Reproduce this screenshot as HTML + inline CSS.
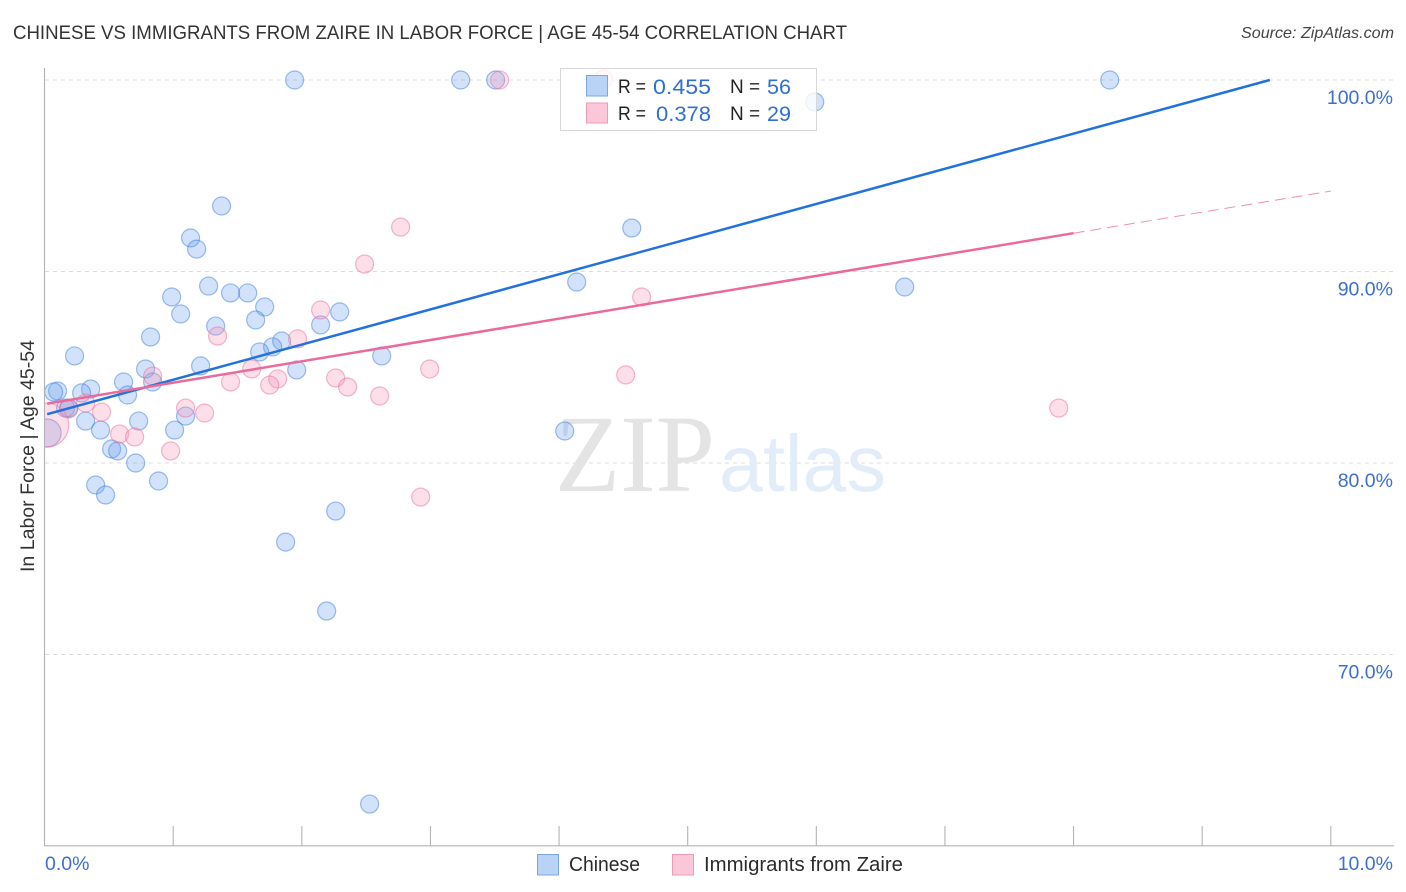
<!DOCTYPE html>
<html lang="en">
<head>
<meta charset="utf-8">
<title>Chinese vs Immigrants from Zaire in Labor Force | Age 45-54 Correlation Chart</title>
<style>
html,body{margin:0;padding:0;background:#fff;width:1406px;height:892px;overflow:hidden}
svg{display:block;font-family:"Liberation Sans",sans-serif}
</style>
</head>
<body>
<svg id="chart" xmlns="http://www.w3.org/2000/svg" width="1406" height="892" viewBox="0 0 1406 892">
  <defs>
    <clipPath id="plot-clip"><rect x="45" y="60" width="1349" height="786"/></clipPath>
  </defs>
  <text x="13" y="39" font-size="19.5" fill="#333" textLength="834" lengthAdjust="spacingAndGlyphs">CHINESE VS IMMIGRANTS FROM ZAIRE IN LABOR FORCE | AGE 45-54 CORRELATION CHART</text>
  <text x="1241" y="38" font-size="16" font-style="italic" fill="#444" textLength="153" lengthAdjust="spacingAndGlyphs">Source: ZipAtlas.com</text>
  <g id="grid"></g>
  <g>
    <text x="555" y="491" font-family="'Liberation Serif',serif" font-size="110" fill="#e4e4e4" textLength="160" lengthAdjust="spacingAndGlyphs">ZIP</text>
    <text x="719" y="491" font-size="80" fill="#e3edfa" textLength="167" lengthAdjust="spacingAndGlyphs">atlas</text>
  </g>
  <g id="points" clip-path="url(#plot-clip)"></g>
  <rect x="0" y="60" width="44.5" height="786" fill="#fff"/>
  <g id="axes"></g>
  <g id="trends"></g>
  <text transform="translate(34,572) rotate(-90)" font-size="19.5" fill="#333" textLength="232" lengthAdjust="spacingAndGlyphs">In Labor Force | Age 45-54</text>
  <g>
    <rect x="560.5" y="68.5" width="256" height="62" fill="#fff" fill-opacity="0.8" stroke="#d8d8d8"/>
    <rect x="586.5" y="75.5" width="21" height="20.5" fill="#b9d3f7" stroke="#7ba6e4"/>
    <rect x="586.5" y="103" width="21" height="20" fill="#fcc7d8" stroke="#f09ab8"/>
    <text x="618" y="93" font-size="19" fill="#222" textLength="28" lengthAdjust="spacingAndGlyphs">R =</text>
    <text x="653" y="94" font-size="21" fill="#2f6fd0" textLength="58" lengthAdjust="spacingAndGlyphs">0.455</text>
    <text x="730" y="93" font-size="19" fill="#222">N =</text>
    <text x="767" y="94" font-size="21" fill="#2f6fd0" textLength="24" lengthAdjust="spacingAndGlyphs">56</text>
    <text x="618" y="120" font-size="19" fill="#222" textLength="28" lengthAdjust="spacingAndGlyphs">R =</text>
    <text x="656" y="121" font-size="21" fill="#2f6fd0" textLength="55" lengthAdjust="spacingAndGlyphs">0.378</text>
    <text x="730" y="120" font-size="19" fill="#222">N =</text>
    <text x="767" y="121" font-size="21" fill="#2f6fd0" textLength="24" lengthAdjust="spacingAndGlyphs">29</text>
  </g>
  <g>
    <rect x="537.5" y="854.5" width="21" height="20.5" fill="#b9d3f7" stroke="#7ba6e4"/>
    <text x="569" y="871" font-size="20" fill="#2b2b2b" textLength="71" lengthAdjust="spacingAndGlyphs">Chinese</text>
    <rect x="672.5" y="854.5" width="21" height="20.5" fill="#fcc7d8" stroke="#f09ab8"/>
    <text x="704" y="871" font-size="20" fill="#2b2b2b" textLength="199" lengthAdjust="spacingAndGlyphs">Immigrants from Zaire</text>
  </g>
</svg>
<script>
const chineseX = [1.944,3.235,3.507,8.281,5.988,1.376,4.565,1.135,1.182,4.137,6.687,1.275,0.988,1.446,1.579,1.711,1.058,1.641,1.330,2.146,2.294,1.843,1.773,1.672,0.824,0.233,2.621,1.213,1.960,0.785,0.614,0.840,0.358,0.101,0.070,0.288,0.645,0.187,0.163,1.096,0.319,0.731,0.435,1.011,4.044,0.020,0.521,0.568,0.708,0.886,0.397,0.474,2.263,1.874,2.193,2.527];
const chineseY = [100,100,100,100,98.85,93.42,92.27,91.75,91.17,89.45,89.19,89.24,88.67,88.88,88.88,88.15,87.78,87.47,87.15,87.21,87.89,86.37,86.06,85.80,86.58,85.59,85.59,85.07,84.86,84.91,84.23,84.23,83.86,83.76,83.71,83.66,83.55,82.87,82.87,82.45,82.19,82.19,81.72,81.72,81.67,81.57,80.73,80.63,80.00,79.06,78.85,78.33,77.49,75.87,72.27,62.19];
const chineseWeight = [1,1,1,1,1,1,1,1,1,1,1,1,1,1,1,1,1,1,1,1,1,1,1,1,1,1,1,1,1,1,1,1,1,1,1,1,1,1,1,1,1,1,1,1,1,2.4,1,1,1,1,1,1,1,1,1,1];
const zaireX = [3.538,2.768,2.488,4.642,2.146,1.345,1.967,2.994,1.610,0.840,4.518,2.263,1.812,1.446,1.750,2.356,2.605,7.885,0.319,0.187,0.443,1.096,1.244,0.583,0.700,0.980,2.924,0.016,4.347];
const zaireY = [100,92.32,90.39,88.67,87.99,86.63,86.48,84.91,84.91,84.54,84.60,84.44,84.39,84.23,84.07,83.97,83.50,82.87,83.13,82.82,82.66,82.87,82.61,81.51,81.36,80.63,78.22,81.98,100.05];
const zaireWeight = [1,1,1,1,1,1,1,1,1,1,1,1,1,1,1,1,1,1,1,1,1,1,1,1,1,1,1,6,1];
const chineseTrendX = [0.02,9.526];
const chineseTrendY = [82.55,100];
const zaireTrendX = [0.02,8];
const zaireTrendY = [83.1,92.0];
const zaireForecastX = [8,10];
const zaireForecastY = [92.0,94.2];
const yTicks = [100,90,80,70];
const yTickLabels = ["100.0%","90.0%","80.0%","70.0%"];
const xTicks = [0,1,2,3,4,5,6,7,8,9,10];
const xEndTicks = [0,10];
const xEndLabels = ["0.0%","10.0%"];

const NS = 'http://www.w3.org/2000/svg';
function sx(v){ return 44.6 + v * 128.62; }
function sy(v){ return 80 + (100 - v) * 19.15; }
function rad(w){ return 9 * Math.sqrt(w); }
function mk(parent, tag, attrs){
  const el = document.createElementNS(NS, tag);
  for (const k in attrs) el.setAttribute(k, attrs[k]);
  parent.appendChild(el);
  return el;
}
const gGrid = document.getElementById('grid');
const gAxes = document.getElementById('axes');
const gPts = document.getElementById('points');
const gTrend = document.getElementById('trends');
const AXIS = '#b4b4b4', BLUE_TXT = '#3b70d2';

yTicks.forEach(function(t, i){
  const line = mk(gGrid, 'line', {x1:45, x2:1394, y1:sy(t), y2:sy(t), stroke:'#dcdcdc', 'stroke-width':1, 'stroke-dasharray':'4 4'});
  
  
  const lab = mk(gAxes, 'text', {x:1393, y:sy(t) + 24, 'font-size':19.5, fill:BLUE_TXT, 'text-anchor':'end'});
  lab.textContent = yTickLabels[i];
  
  
});

const yAxis = mk(gAxes, 'line', {x1:44.5, x2:44.5, y1:68, y2:846, stroke:AXIS, 'stroke-width':1.2});


const xAxis = mk(gAxes, 'line', {x1:44, x2:1394, y1:845.8, y2:845.8, stroke:AXIS, 'stroke-width':1.2});



xTicks.forEach(function(t){
  if (t === 0) return;
  const tick = mk(gAxes, 'line', {x1:sx(t), x2:sx(t), y1:826, y2:846, stroke:AXIS, 'stroke-width':1.1});
  
  
});

xEndTicks.forEach(function(t, i){
  const lab = mk(gAxes, 'text', {x: i === 0 ? 45 : 1393, y:870, 'font-size':19.5, fill:BLUE_TXT, 'text-anchor': i === 0 ? 'start' : 'end'});
  lab.textContent = xEndLabels[i];
  
  
});

chineseX.forEach(function(v, i){
  const c = mk(gPts, 'circle', {cx:sx(v), cy:sy(chineseY[i]), r:rad(chineseWeight[i]), fill:'rgba(105,160,238,0.3)', stroke:'rgba(60,125,222,0.5)', 'stroke-width':1.2});
  
  
});
zaireX.forEach(function(v, i){
  const c = mk(gPts, 'circle', {cx:sx(v), cy:sy(zaireY[i]), r:rad(zaireWeight[i]), fill:'rgba(248,150,182,0.3)', stroke:'rgba(236,110,152,0.5)', 'stroke-width':1.2});
  
  
});

const t1 = mk(gTrend, 'line', {x1:sx(chineseTrendX[0]), y1:sy(chineseTrendY[0]), x2:sx(chineseTrendX[1]), y2:sy(chineseTrendY[1]), stroke:'#2272dc', 'stroke-width':2.5});


const t2 = mk(gTrend, 'line', {x1:sx(zaireTrendX[0]), y1:sy(zaireTrendY[0]), x2:sx(zaireTrendX[1]), y2:sy(zaireTrendY[1]), stroke:'#ea6a9c', 'stroke-width':2.5});


const t3 = mk(gTrend, 'line', {x1:sx(zaireForecastX[0]), y1:sy(zaireForecastY[0]), x2:sx(zaireForecastX[1]), y2:sy(zaireForecastY[1]), stroke:'#ee8fb2', 'stroke-width':1, 'stroke-dasharray':'11 6'});


</script>
</body>
</html>
